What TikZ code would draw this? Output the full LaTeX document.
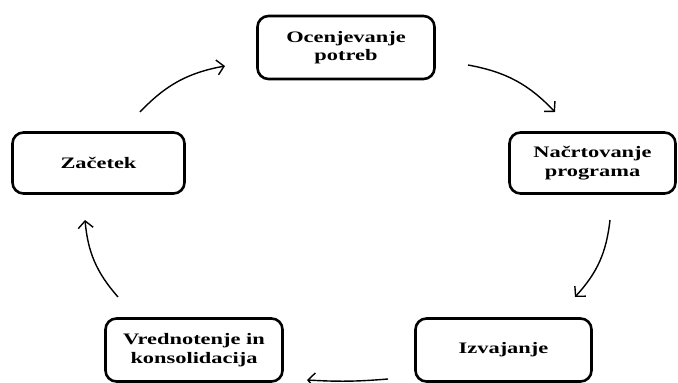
\documentclass[tikz,border=0pt]{standalone}
\usepackage{fontspec}
\setmainfont{Liberation Serif}[FakeStretch=1.4]
\usetikzlibrary{arrows.meta}
\begin{document}
\begin{tikzpicture}[x=1pt,y=1pt,
  box/.style={draw, line width=2.6pt, rounded corners=11pt, align=center,
    font=\fontsize{16}{18.5}\selectfont\bfseries, inner sep=0pt},
  arr/.style={line width=1.4pt, -{Straight Barb[length=7pt,width=15pt,line width=1.4pt]}}]
\useasboundingbox (0,0) rectangle (678,383);
\node[box, minimum width=177pt, minimum height=63pt] (oc) at (346,335.5) {Ocenjevanje\\potreb};
\node[box, minimum width=172pt, minimum height=61pt] (za) at (98.5,220) {Začetek};
\node[box, minimum width=166pt, minimum height=61pt] (na) at (592.5,220) {Načrtovanje\\programa};
\node[box, minimum width=177pt, minimum height=63pt] (vr) at (194,33) {Vrednotenje in\\konsolidacija};
\node[box, minimum width=176pt, minimum height=63pt] (iz) at (503.5,33) {Izvajanje};
\coordinate (a1s) at (140,271); \coordinate (a1e) at (225,317);
\coordinate (a2s) at (468,318); \coordinate (a2e) at (555,271);
\coordinate (a3s) at (610,163); \coordinate (a3e) at (575,86);
\coordinate (a4s) at (388,4);   \coordinate (a4e) at (307,3);
\coordinate (a5s) at (118,86);  \coordinate (a5e) at (85,163);
\draw[arr] (a1s) to[bend left=18] (a1e);
\draw[arr] (a2s) to[bend left=18] (a2e);
\draw[arr] (a3s) to[bend left=18] (a3e);
\draw[arr] (a4s) to[bend left=4] (a4e);
\draw[arr] (a5s) to[bend left=18] (a5e);
\end{tikzpicture}
\end{document}
